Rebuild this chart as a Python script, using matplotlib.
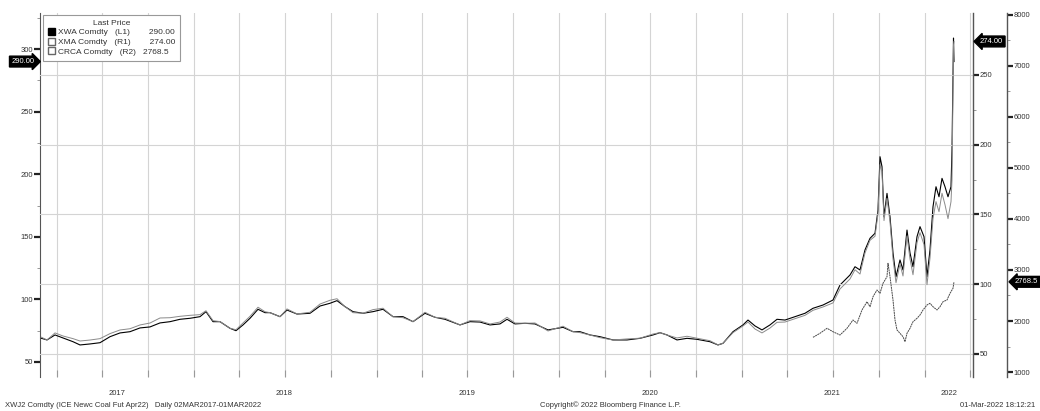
import pandas as pd
import matplotlib
matplotlib.use('Agg')
import matplotlib.pyplot as plt
from matplotlib.patches import Patch
from matplotlib.transforms import blended_transform_factory

plt.rcParams['font.family'] = ['Liberation Sans', 'DejaVu Sans']
plt.rcParams['font.size'] = 5.5

# dates shared by XWA (L1) and XMA (R1)
fechas = [
    "2017-03-02", "2017-03-13", "2017-03-29", "2017-04-14", "2017-05-04", "2017-05-18", "2017-06-07",
    "2017-06-27", "2017-07-17", "2017-08-06", "2017-08-26", "2017-09-15", "2017-10-05", "2017-10-25",
    "2017-11-14", "2017-12-04", "2017-12-24",
    "2018-01-13", "2018-01-25", "2018-02-08", "2018-02-22", "2018-03-14", "2018-03-26", "2018-04-09",
    "2018-04-23", "2018-05-09", "2018-05-23", "2018-06-02", "2018-06-22", "2018-07-06", "2018-07-26",
    "2018-08-21", "2018-09-10", "2018-09-30", "2018-10-14", "2018-10-30", "2018-11-15", "2018-12-05",
    "2018-12-25",
    "2019-01-14", "2019-02-03", "2019-02-23", "2019-03-15", "2019-04-08", "2019-04-28", "2019-05-18",
    "2019-06-17", "2019-07-07", "2019-07-27", "2019-08-16", "2019-09-05", "2019-09-19", "2019-10-05",
    "2019-10-25", "2019-11-14", "2019-12-10",
    "2020-01-09", "2020-01-29", "2020-02-12", "2020-03-03", "2020-03-23", "2020-04-18", "2020-05-16",
    "2020-06-11", "2020-07-07", "2020-07-21", "2020-08-04", "2020-08-24", "2020-09-13", "2020-10-03",
    "2020-10-29", "2020-11-14", "2020-11-24", "2020-12-14",
    "2021-01-03", "2021-01-13", "2021-01-27", "2021-02-10", "2021-02-26", "2021-03-12", "2021-03-28",
    "2021-04-17", "2021-05-07", "2021-05-23", "2021-06-12", "2021-07-02", "2021-07-16", "2021-08-05",
    "2021-08-15", "2021-08-25", "2021-09-04", "2021-09-14", "2021-09-24", "2021-09-30", "2021-10-04",
    "2021-10-08", "2021-10-12", "2021-10-18", "2021-10-24", "2021-10-30", "2021-11-05", "2021-11-13",
    "2021-11-19", "2021-11-27", "2021-12-03", "2021-12-09", "2021-12-17", "2021-12-23", "2021-12-31",
    "2022-01-06", "2022-01-12", "2022-01-18", "2022-01-24", "2022-01-30", "2022-02-05", "2022-02-11",
    "2022-02-17", "2022-02-23", "2022-02-25", "2022-02-28", "2022-03-01",
]

xwa = [
    68.9, 67.6, 71.6, 69.2, 66.2, 63.6, 64.4, 65.4, 70.2, 73.2, 74.2, 77.2, 78.0, 81.2, 82.2, 84.1, 84.9,
    86.2, 90.2, 82.2, 82.2, 76.9, 75.0, 79.6, 84.9, 92.1, 89.4, 89.4, 86.2, 91.5, 88.3, 88.9, 94.7, 96.9,
    99.0, 94.2, 90.2, 88.9, 90.2,
    92.1, 86.2, 86.2, 82.2, 88.9, 85.7, 84.1, 79.6, 82.2, 81.9, 79.6, 80.4, 84.1, 80.4, 80.9, 80.4, 75.6,
    77.7, 74.2, 74.2, 71.6, 70.2, 67.6, 67.6, 68.9, 71.6, 73.4, 71.6, 67.6, 68.9, 68.1, 66.2, 63.6, 64.9,
    74.2,
    79.6, 83.5, 78.8, 75.6, 79.6, 84.1, 83.5, 86.2, 88.9, 92.9, 95.5, 99.5, 111.5, 119.5, 126.1, 123.5,
    139.5, 148.8, 152.8, 171.4, 214.0, 206.0, 166.0, 184.7, 166.0, 137.1, 118.1, 131.5, 123.5, 155.4,
    137.1, 126.1, 150.1, 158.1, 150.1,
    118.1, 139.5, 174.0, 190.0, 182.0, 196.7, 190.0, 182.0, 190.0, 219.3, 308.8, 290.0,
]

xma = [
    62.0, 60.0, 65.1, 62.9, 61.0, 59.3, 60.0, 61.0, 64.6, 67.2, 68.1, 70.8, 72.2, 75.8, 76.0, 77.0, 77.7,
    78.2, 81.0, 73.9, 73.2, 68.4, 67.4, 72.2, 77.0, 83.5, 80.3, 79.6, 76.7, 82.3, 78.7, 79.9, 85.8, 88.5,
    89.6, 83.9, 79.6, 79.2, 81.8,
    82.8, 76.7, 76.0, 73.2, 79.9, 76.3, 75.6, 70.8, 73.9, 73.7, 71.5, 72.9, 76.3, 72.2, 72.0, 72.2, 66.5,
    69.9, 66.0, 65.3, 63.6, 61.7, 60.0, 60.8, 61.3, 64.3, 65.3, 63.6, 61.5, 62.7, 61.3, 59.5, 56.5, 57.7,
    65.3,
    70.1, 72.9, 67.9, 65.1, 68.6, 72.7, 72.9, 75.3, 77.7, 81.3, 83.7, 86.6, 96.6, 103.8, 110.4, 107.3,
    122.4, 131.5, 134.4, 150.4, 185.7, 180.7, 145.6, 161.6, 144.8, 118.1, 101.1, 114.5, 105.9, 134.6,
    118.1, 106.8, 129.8, 137.0, 128.4,
    99.7, 118.8, 147.0, 159.2, 152.0, 165.2, 157.0, 147.0, 159.2, 174.7, 271.5, 274.0,
]

fechas_crca = [
    "2021-05-23", "2021-06-06", "2021-06-20", "2021-07-02", "2021-07-16", "2021-07-30", "2021-08-11",
    "2021-08-19", "2021-08-29", "2021-09-08", "2021-09-14", "2021-09-20", "2021-09-28", "2021-10-04",
    "2021-10-10", "2021-10-18", "2021-10-20", "2021-10-24", "2021-10-30", "2021-11-03", "2021-11-07",
    "2021-11-13", "2021-11-19", "2021-11-23", "2021-11-27", "2021-12-03", "2021-12-09", "2021-12-17",
    "2021-12-23", "2021-12-29", "2022-01-06", "2022-01-12", "2022-01-18", "2022-01-26", "2022-02-01",
    "2022-02-07", "2022-02-15", "2022-02-21", "2022-02-27", "2022-03-01",
]
crca = [
    1680, 1759, 1857, 1790, 1725, 1857, 2020, 1955, 2216, 2378, 2280, 2476, 2608, 2543, 2739, 2869,
    3131, 2869, 2412, 2020, 1824, 1759, 1692, 1594, 1759, 1857, 1986, 2053, 2118, 2216, 2314, 2347,
    2280, 2216, 2280, 2378, 2412, 2543, 2641, 2768.5,
]

etiquetas_leyenda = ["XWA Comdty   (L1)        290.00",
                     "XMA Comdty   (R1)        274.00",
                     "CRCA Comdty   (R2)   2768.5"]
anyos = ["2017", "2018", "2019", "2020", "2021", "2022"]
pos_anyos = ["2017-08-01", "2018-07-01", "2019-07-01", "2020-07-01", "2021-07-01", "2022-02-19"]

gris = '#333333'
fig = plt.figure(figsize=(10.4, 4.11), dpi=100)
ax = fig.add_axes([40 / 1040, 1 - 377 / 411, 933 / 1040, 364 / 411])
ax_r1 = ax.twinx()
ax_r2 = ax.twinx()
# outward is in points: 34 px at 100 dpi
ax_r2.spines['right'].set_position(('outward', 34 * 72 / 100))

f = pd.to_datetime(fechas)
ax.plot(f, xwa, color='black', lw=0.8, zorder=3)
ax_r1.plot(f, xma, color='#8a8a8a', lw=0.7)
ax_r2.plot(pd.to_datetime(fechas_crca), crca, color='#4a4a4a', lw=0.7, ls=(0, (2, 0.6)))

ax.set_xlim(pd.Timestamp('2017-02-27'), pd.Timestamp('2022-04-08'))
ax.set_ylim(38.0, 328.8)
ax_r1.set_ylim(33.5, 294.4)
ax_r2.set_ylim(902, 8039)

# quarter gridlines
ax.set_xticks(pd.date_range('2017-04-01', '2022-04-01', freq='QS'))
ax.set_xticklabels([])
ax.tick_params(axis='x', which='major', direction='in', length=5, color='#999999')
ax.grid(axis='x', which='major', color='#d4d4d4', lw=0.8)
ax_r1.grid(axis='y', color='#d4d4d4', lw=0.8)

# year labels centred under each year
t_anyo = blended_transform_factory(ax.transData, ax.transAxes)
for pos, anyo in zip(pos_anyos, anyos):
    ax.text(pd.Timestamp(pos), -0.044, anyo, transform=t_anyo, ha='center', va='center',
            fontsize=5.5, color=gris)

ax.set_yticks([50, 100, 150, 200, 250, 300])
ax.set_yticks([75, 125, 175, 225, 275, 325], minor=True)
ax_r1.set_yticks([50, 100, 150, 200, 250])
ax_r1.set_yticks([75, 125, 175, 225, 275], minor=True)
ax_r2.set_yticks([1000, 2000, 3000, 4000, 5000, 6000, 7000, 8000])
ax_r2.set_yticks([1500, 2500, 3500, 4500, 5500, 6500, 7500], minor=True)

for a in (ax, ax_r1, ax_r2):
    a.spines['top'].set_visible(False)
    a.spines['bottom'].set_visible(False)
    a.tick_params(axis='y', which='major', direction='out', length=4, width=1.6,
                  color='#222222', labelcolor=gris, labelsize=5.5, pad=1)
    a.tick_params(axis='y', which='minor', direction='out', length=2, width=0.6, color='#888888')
ax.spines['right'].set_visible(False)
ax_r1.spines['left'].set_visible(False)
ax_r2.spines['left'].set_visible(False)
ax.spines['left'].set_color('#555555')
ax_r1.spines['right'].set_color('#555555')
ax_r2.spines['right'].set_color('#555555')
ax_r1.spines['right'].set_linewidth(1.0)
ax_r2.spines['right'].set_linewidth(1.0)

# last value tags
t_izq = blended_transform_factory(ax.transAxes, ax.transData)
ax.text(-0.006, xwa[-1], '290.00', transform=t_izq, ha='right', va='center', color='white',
        fontsize=5.5, bbox=dict(boxstyle='rarrow,pad=0.25', fc='black', ec='black'))
ax_r1.annotate('274.00', xy=(1, xma[-1]), xycoords=('axes fraction', 'data'),
               xytext=(7, 0), textcoords='offset pixels', ha='left', va='center', color='white',
               fontsize=5.5, bbox=dict(boxstyle='larrow,pad=0.25', fc='black', ec='black'))
ax_r2.annotate('2768.5', xy=(1, crca[-1]), xycoords=('axes fraction', 'data'),
               xytext=(42, 0), textcoords='offset pixels', ha='left', va='center', color='white',
               fontsize=5.5, bbox=dict(boxstyle='larrow,pad=0.25', fc='black', ec='black'))

handles = [Patch(fc='black', ec='black'), Patch(fc='white', ec='#666666'), Patch(fc='white', ec='#666666')]
leg = ax_r2.legend(handles, etiquetas_leyenda, title='Last Price', loc='upper left',
                   bbox_to_anchor=(0.003, 0.995), fontsize=6, title_fontsize=6,
                   handlelength=0.9, handleheight=0.9, handletextpad=0.3, labelspacing=0.15,
                   borderpad=0.6, borderaxespad=0, fancybox=False, framealpha=1, edgecolor='#999999')
for t in leg.get_texts():
    t.set_color(gris)
leg.get_title().set_color(gris)
leg.get_frame().set_linewidth(0.8)

fig.text(5 / 1040, 1 - 405 / 411, 'XWJ2 Comdty (ICE Newc Coal Fut Apr22)   Daily 02MAR2017-01MAR2022',
         fontsize=5.5, color=gris, va='center')
fig.text(540 / 1040, 1 - 405 / 411, 'Copyright\u00a9 2022 Bloomberg Finance L.P.',
         fontsize=5.5, color=gris, va='center')
fig.text(1035 / 1040, 1 - 405 / 411, '01-Mar-2022 18:12:21', fontsize=5.5, color=gris,
         va='center', ha='right')

fig.savefig('out.png', dpi=100)
